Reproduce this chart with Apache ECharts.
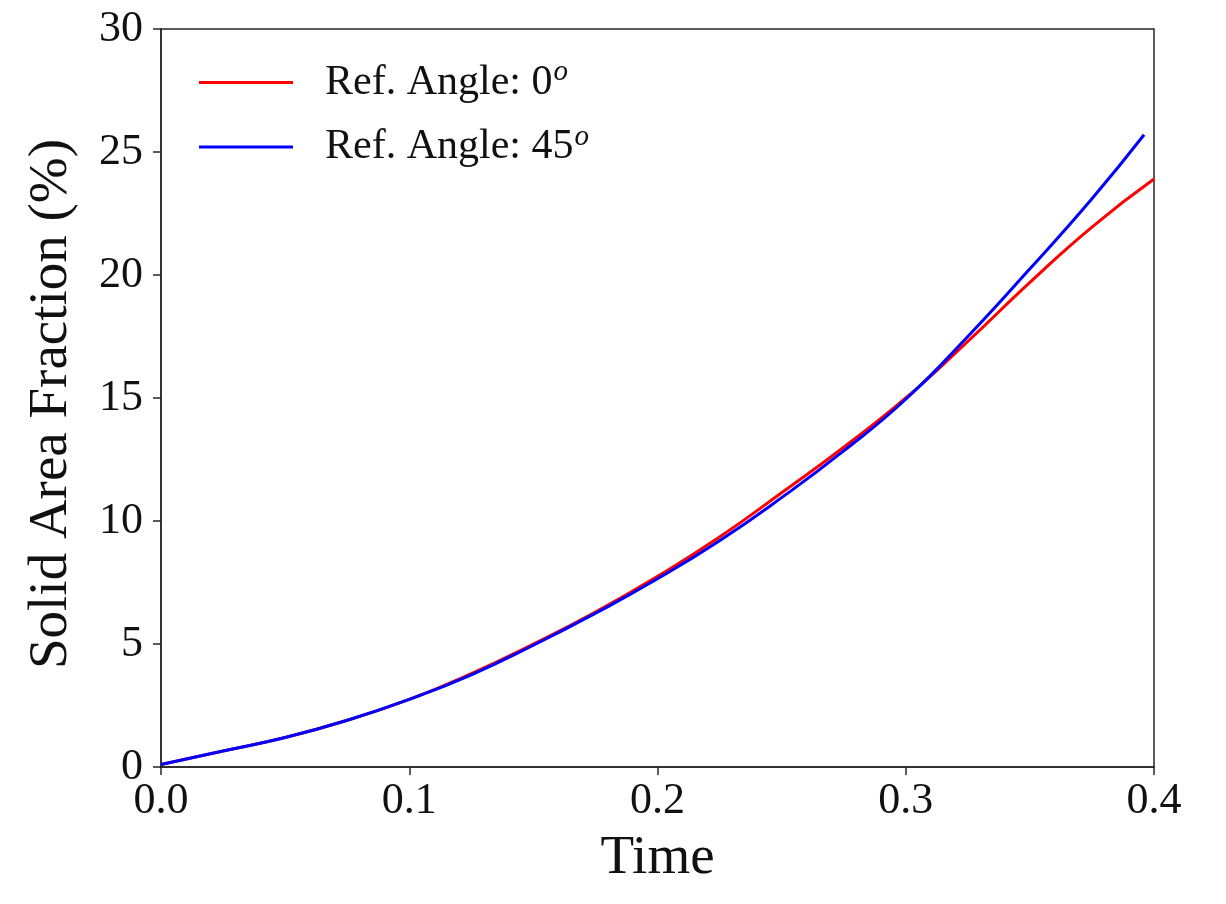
<!DOCTYPE html>
<html>
<head>
<meta charset="utf-8">
<script src="https://cdn.jsdelivr.net/npm/echarts@6/dist/echarts.min.js"></script>
<style>
    html, body {margin:0; padding:0; background:#fff;}
    #main {width:1226px; height:904px;}
</style>
</head>
<body>
<div id="main"></div>
<script>
// time values (x) and solid area fraction (%)
let time_red = [0, 0.025, 0.05, 0.075, 0.1, 0.125, 0.15, 0.175, 0.2, 0.225, 0.25, 0.275, 0.3, 0.325, 0.35, 0.375, 0.4];
let frac_red = [0.1, 0.65, 1.2, 1.9, 2.75, 3.8, 5.0, 6.3, 7.75, 9.35, 11.15, 13.0, 15.0, 17.3, 19.7, 21.95, 23.9];
let time_blue = [0, 0.025, 0.05, 0.075, 0.1, 0.125, 0.15, 0.175, 0.2, 0.225, 0.25, 0.275, 0.3, 0.325, 0.35, 0.375, 0.396];
let frac_blue = [0.1, 0.65, 1.2, 1.9, 2.75, 3.75, 4.95, 6.25, 7.65, 9.2, 10.95, 12.85, 14.95, 17.5, 20.25, 23.1, 25.7];
let angle_names = ['Ref. Angle: 0', 'Ref. Angle: 45'];

function pairs(xs, ys) {
    return xs.map(function (x, i) { return [x, ys[i]]; });
}

let chart_box = echarts.init(document.getElementById('main'));
let font = '"Liberation Serif", "DejaVu Serif", serif';
let option = {
    animation: false,
    color: ['#ff0000', '#0000ff'],
    grid: {
        left: 161, right: 72, top: 29, bottom: 137,
        show: true, borderColor: '#262626', borderWidth: 1.5,
        containLabel: false
    },
    legend: {
        data: angle_names,
        orient: 'vertical',
        left: 194, top: 53,
        icon: 'rect',
        itemWidth: 94, itemHeight: 3, itemGap: 19,
        formatter: function (name) { return '{t|' + name + '}{sup|o}'; },
        textStyle: {
            padding: [0, 0, 0, 27],
            rich: {
                t: {fontFamily: font, fontSize: 42, color: '#111', lineHeight: 44},
                sup: {fontFamily: font, fontSize: 29, fontStyle: 'italic', color: '#111', padding: [0, 0, 20, 1]}
            }
        }
    },
    xAxis: {
        type: 'value',
        min: 0, max: 0.4, interval: 0.1,
        name: 'Time',
        nameLocation: 'middle',
        nameGap: 64,
        nameTextStyle: {fontFamily: font, fontSize: 55, color: '#111'},
        axisLine: {show: true, lineStyle: {color: '#262626', width: 1.5}},
        axisTick: {show: true, inside: false, length: 8, lineStyle: {color: '#262626', width: 1.5}},
        axisLabel: {
            fontFamily: font, fontSize: 44, color: '#111', margin: 12,
            formatter: function (v) { return v.toFixed(1); }
        },
        splitLine: {show: false}
    },
    yAxis: {
        type: 'value',
        min: 0, max: 30, interval: 5,
        name: 'Solid Area Fraction (%)',
        nameLocation: 'middle',
        nameGap: 82,
        nameTextStyle: {fontFamily: font, fontSize: 55, color: '#111', padding: [0, 12, 0, 0]},
        axisLine: {show: true, lineStyle: {color: '#262626', width: 1.5}},
        axisTick: {show: true, inside: false, length: 8, lineStyle: {color: '#262626', width: 1.5}},
        axisLabel: {fontFamily: font, fontSize: 44, color: '#111', margin: 18},
        splitLine: {show: false}
    },
    series: [
        {
            name: angle_names[0],
            type: 'line',
            smooth: true,
            symbol: 'none',
            data: pairs(time_red, frac_red),
            lineStyle: {width: 3}
        },
        {
            name: angle_names[1],
            type: 'line',
            smooth: true,
            symbol: 'none',
            data: pairs(time_blue, frac_blue),
            lineStyle: {width: 3}
        }
    ]
};
chart_box.setOption(option);
window.onresize = chart_box.resize;
</script>
</body>
</html>
